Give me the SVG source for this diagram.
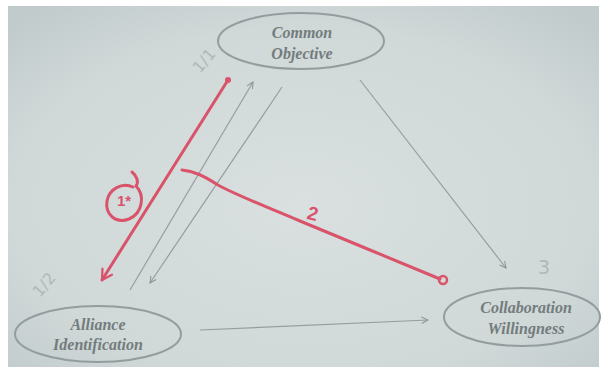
<svg xmlns="http://www.w3.org/2000/svg" width="603" height="367" viewBox="0 0 603 367">
<defs>
<radialGradient id="bg" cx="50%" cy="55%" r="70%">
<stop offset="0" stop-color="#d9e0df"/>
<stop offset="0.7" stop-color="#d0d8d8"/>
<stop offset="1" stop-color="#c2cbcc"/>
</radialGradient>
<marker id="ga" viewBox="0 0 10 10" refX="9" refY="5" markerWidth="8" markerHeight="8" orient="auto" markerUnits="userSpaceOnUse">
<path d="M1,1 L9,5 L1,9" fill="none" stroke="#8c9596" stroke-width="1.3"/>
</marker>
<marker id="ra" viewBox="0 0 10 10" refX="8" refY="5" markerWidth="14" markerHeight="14" orient="auto" markerUnits="userSpaceOnUse">
<path d="M1,1 L8,5 L1,9" fill="none" stroke="#d9536b" stroke-width="1.6" stroke-linecap="round" stroke-linejoin="round"/>
</marker>
</defs>
<style>
.node ellipse{fill:none;stroke:#949d9e;stroke-width:2}
.node text{font-family:"Liberation Serif",serif;font-style:italic;font-size:16px;fill:#737c7d;text-anchor:middle;font-weight:bold}
.conn line{stroke:#959e9f;stroke-width:1.2;fill:none}
.red{stroke:#d9536b;stroke-width:3;fill:none;stroke-linecap:round;stroke-linejoin:round}
.redt{font-family:"Liberation Sans",sans-serif;font-weight:bold;fill:#d9536b}
.pencil{font-family:"DejaVu Sans",sans-serif;fill:#b0b8b9}
</style>
<rect width="603" height="367" fill="#ffffff"/>
<rect x="8" y="6" width="591" height="361" fill="url(#bg)"/>

<g id="connectors" class="conn">
<line x1="130" y1="290" x2="253" y2="82" marker-end="url(#ga)"/>
<line x1="282" y1="87" x2="150" y2="283" marker-end="url(#ga)"/>
<line x1="360" y1="80" x2="506" y2="268" marker-end="url(#ga)"/>
<line x1="200" y1="330" x2="428" y2="320" marker-end="url(#ga)"/>
</g>

<g id="node-common-objective" class="node">
<ellipse cx="301" cy="41" rx="83" ry="28"/>
<text x="302" y="38">Common</text>
<text x="302" y="59">Objective</text>
</g>
<g id="node-alliance-identification" class="node">
<ellipse cx="98" cy="334" rx="83" ry="28"/>
<text x="98" y="330">Alliance</text>
<text x="98" y="350">Identification</text>
</g>
<g id="node-collaboration-willingness" class="node">
<ellipse cx="522" cy="317" rx="78" ry="29"/>
<text x="526" y="313">Collaboration</text>
<text x="526" y="334">Willingness</text>
</g>

<g id="pencil-notes">
<text class="pencil" x="0" y="0" font-size="16" transform="translate(200,74) rotate(-50)">1/1</text>
<text class="pencil" x="0" y="0" font-size="16" transform="translate(40,298) rotate(-50)">1/2</text>
<text class="pencil" x="538" y="274" font-size="19">3</text>
</g>

<g id="red-annotations">
<line class="red" x1="228" y1="80" x2="102" y2="280" marker-end="url(#ra)"/>
<circle cx="228" cy="80" r="3" fill="#d9536b"/>
<path class="red" d="M182,170 C194,171 204,176 218,185 C240,197 270,208 300,221 C345,240 395,260 440,279"/>
<circle cx="443" cy="280" r="4" fill="none" stroke="#d9536b" stroke-width="2.5"/>
<path class="red" stroke-width="2.2" d="M132,172 C137,176 139,182 136,186 C145,195 143,213 129,219 C115,224 105,214 107,201 C109,189 122,182 133,187"/>
<text class="redt" x="124" y="206" font-size="15" text-anchor="middle">1*</text>
<text class="redt" x="313" y="220" font-size="19" text-anchor="middle" transform="rotate(15 313 213)">2</text>
</g>
</svg>
